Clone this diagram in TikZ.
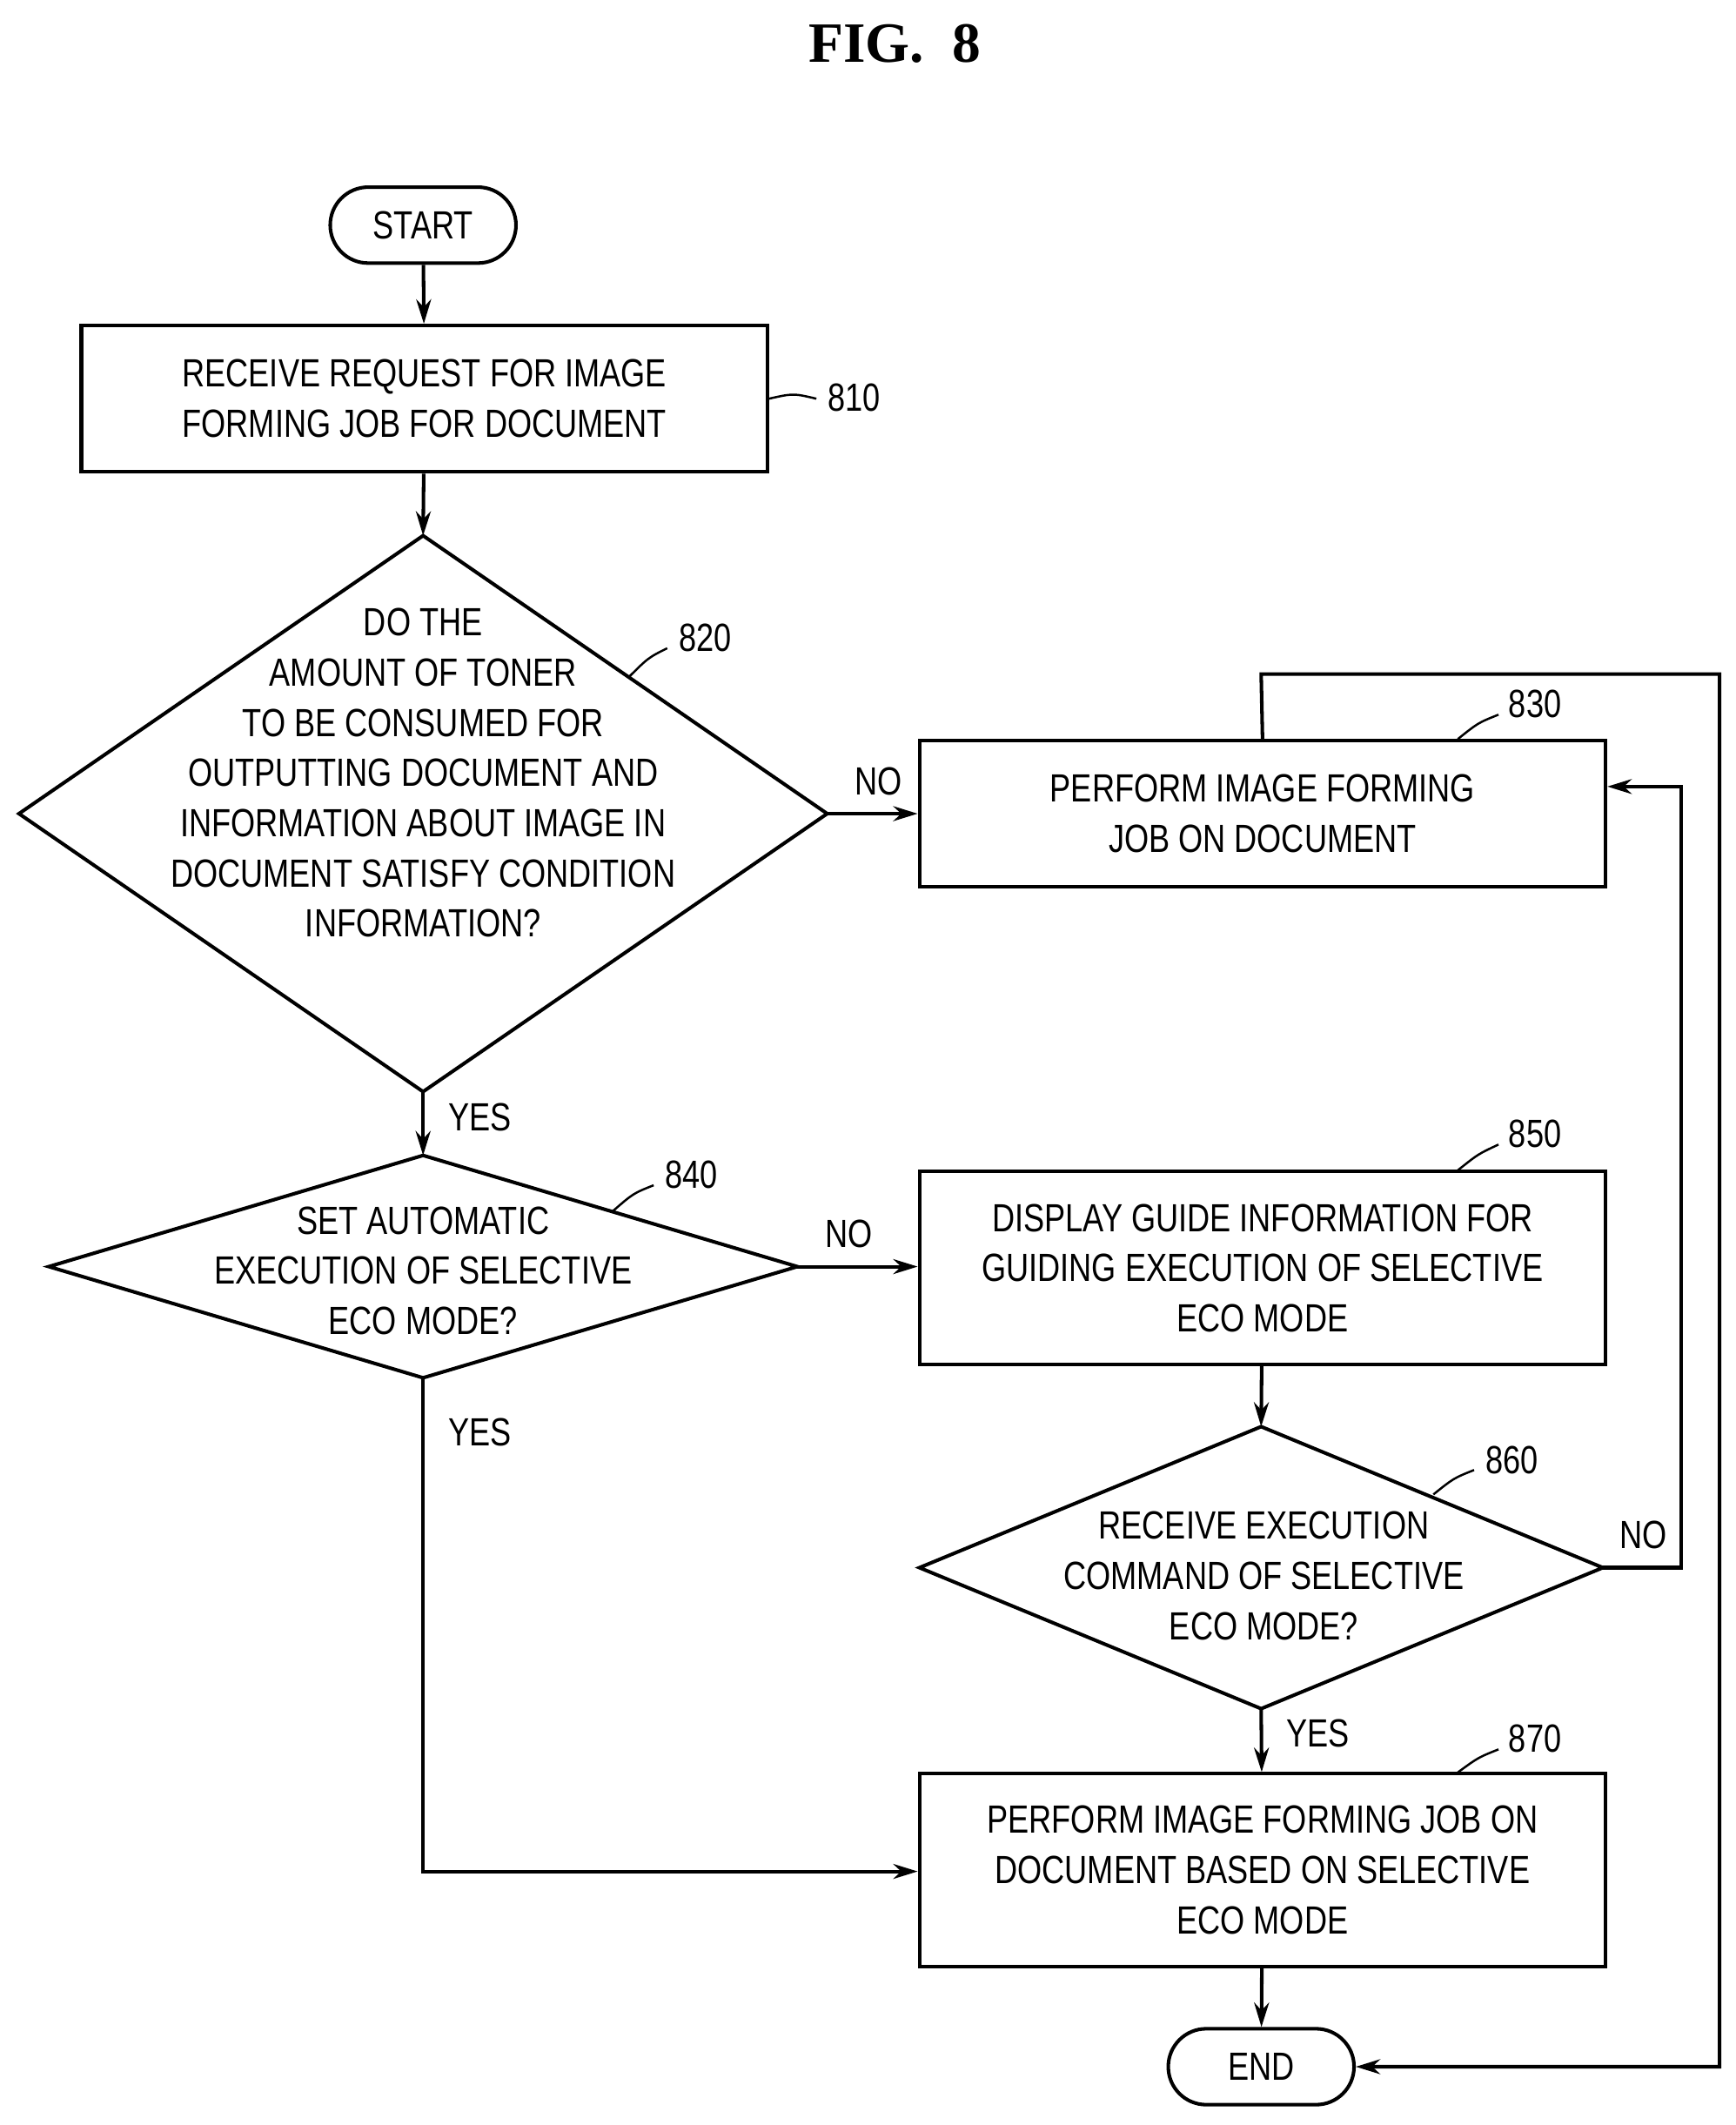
\documentclass[tikz,border=0pt]{standalone}
\usepackage{fontspec}
\setmainfont{Liberation Sans}[FakeStretch=0.8]
\newfontfamily\serifb{Liberation Serif}
\usetikzlibrary{shapes.geometric,arrows.meta}
\begin{document}
\begin{tikzpicture}[x=1pt,y=-1pt,line width=2.6pt,
 txt/.style={font=\fontsize{29}{37}\selectfont,align=center},
 box/.style={draw,txt,minimum width=506pt,inner sep=0pt},
 term/.style={draw,rounded corners=28pt,txt,minimum height=56pt,minimum width=137pt},
 dia/.style={draw,diamond,aspect=1,txt,inner sep=0pt},
 arr/.style={-{Stealth[length=18pt,width=11pt]}},
 lab/.style={font=\fontsize{29}{35}\selectfont},
 lead/.style={line width=1.6pt}]
\useasboundingbox (0,0) rectangle (1280,1567);
\node[font=\serifb\bfseries\fontsize{42}{48}\selectfont] (title) at (660,32) {FIG.\ \ 8};
\node[term] (start) at (312,166) {START};
\node[box,minimum height=108pt] (b810) at (313,294) {RECEIVE REQUEST FOR IMAGE\\FORMING JOB FOR DOCUMENT};
\draw[line width=2.6pt] (14,600) -- (312,395) -- (610,600) -- (312,805) -- cycle;
\coordinate (d820t) at (312,395); \coordinate (d820r) at (610,600); \coordinate (d820b) at (312,805);
\node[txt] (t820) at (312,570) {DO THE\\AMOUNT OF TONER\\TO BE CONSUMED FOR\\OUTPUTTING DOCUMENT AND\\INFORMATION ABOUT IMAGE IN\\DOCUMENT SATISFY CONDITION\\INFORMATION?};
\node[box,minimum height=108pt] (b830) at (931,600) {PERFORM IMAGE FORMING\\JOB ON DOCUMENT};
\draw (36,934) -- (312,852) -- (588,934) -- (312,1016) -- cycle;
\coordinate (d840t) at (312,852); \coordinate (d840r) at (588,934); \coordinate (d840b) at (312,1016);
\node[txt] (t840) at (312,937) {SET AUTOMATIC\\EXECUTION OF SELECTIVE\\ECO MODE?};
\node[box,minimum height=142pt] (b850) at (931,935) {DISPLAY GUIDE INFORMATION FOR\\GUIDING EXECUTION OF SELECTIVE\\ECO MODE};
\draw (678,1156) -- (930,1052) -- (1182,1156) -- (930,1260) -- cycle;
\coordinate (d860t) at (930,1052); \coordinate (d860r) at (1182,1156); \coordinate (d860b) at (930,1260);
\node[txt] (t860) at (932,1162) {RECEIVE EXECUTION\\COMMAND OF SELECTIVE\\ECO MODE?};
\node[box,minimum height=142pt] (b870) at (931,1379) {PERFORM IMAGE FORMING JOB ON\\DOCUMENT BASED ON SELECTIVE\\ECO MODE};
\node[term] (end) at (930,1524) {END};
% arrows
\draw[arr] (start) -- (b810);
\draw[arr] (b810) -- (d820t);
\draw[arr] (d820r) -- (b830.west|-d820r);
\draw[arr] (d820b) -- (d840t);
\draw[arr] (d840r) -- (b850.west|-d840r);
\draw[arr] (b850) -- (d860t);
\draw[arr] (d860b) -- (b870);
\draw[arr] (b870) -- (end);
\draw[arr] (d840b) -- (312,1380) -- (b870.west|-0,1380);
\draw[arr] (d860r) -- (1240,1156) -- (1240,580) -- (b830.east|-0,580);
\draw[arr] (b830.north) -- (930,497) -- (1268,497) -- (1268,1524) -- (end.east);
% labels
\node[lab] (no1) at (648,576) {NO};
\node[lab] (yes1) at (354,824) {YES};
\node[lab] (no2) at (626,910) {NO};
\node[lab] (yes2) at (354,1056) {YES};
\node[lab] (no3) at (1212,1132) {NO};
\node[lab] (yes3) at (972,1278) {YES};
\node[lab] (n810) at (630,293) {810};
\node[lab] (n820) at (520,470) {820};
\node[lab] (n830) at (1132,519) {830};
\node[lab] (n840) at (510,866) {840};
\node[lab] (n850) at (1132,836) {850};
\node[lab] (n860) at (1115,1077) {860};
\node[lab] (n870) at (1132,1282) {870};
\draw[lead] (567,294) .. controls (585,290) .. (602,294);
\draw[lead] (463,500) .. controls (478,485) .. (492,478);
\draw[lead] (1075,545) .. controls (1090,533) .. (1105,527);
\draw[lead] (452,893) .. controls (467,880) .. (482,874);
\draw[lead] (1075,863) .. controls (1090,851) .. (1105,844);
\draw[lead] (1057,1102) .. controls (1072,1090) .. (1087,1084);
\draw[lead] (1075,1307) .. controls (1090,1296) .. (1105,1290);
\end{tikzpicture}
\end{document}
